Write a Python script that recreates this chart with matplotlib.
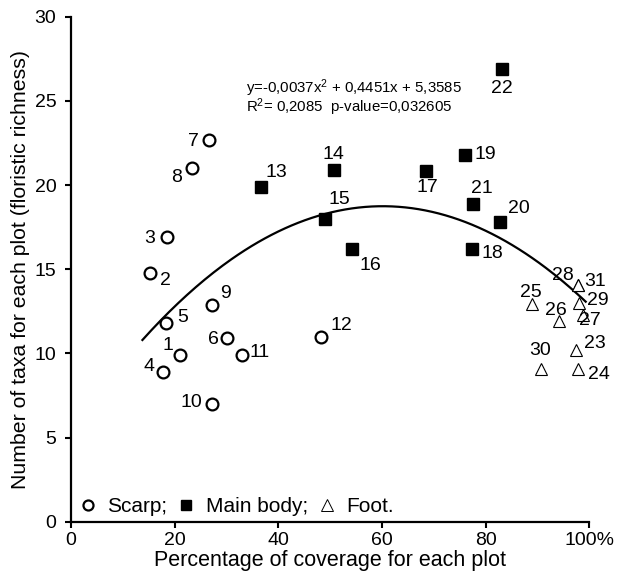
import numpy as np
import matplotlib
matplotlib.use('Agg')
import matplotlib.pyplot as plt

plt.rcParams['font.family'] = ['Liberation Sans', 'DejaVu Sans']
plt.rcParams['mathtext.default'] = 'regular'

# data: (coverage %, number of taxa)
scarp_id = [1, 2, 3, 4, 5, 6, 7, 8, 9, 10, 11, 12]
scarp_x = [21.1, 15.2, 18.6, 17.8, 18.4, 30.2, 26.6, 23.4, 27.2, 27.3, 33.0, 48.2]
scarp_y = [9.9, 14.8, 16.9, 8.9, 11.8, 10.9, 22.7, 21.0, 12.9, 7.0, 9.9, 11.0]

body_id = [13, 14, 15, 16, 17, 18, 19, 20, 21, 22]
body_x = [36.6, 50.7, 49.1, 54.3, 68.5, 77.3, 76.0, 82.7, 77.6, 83.1]
body_y = [19.9, 20.9, 18.0, 16.2, 20.85, 16.2, 21.8, 17.8, 18.9, 26.9]

foot_id = [23, 24, 25, 26, 27, 28, 29, 30, 31]
foot_x = [97.5, 97.9, 89.0, 94.1, 98.8, 97.9, 98.1, 90.6, 97.9]
foot_y = [10.2, 9.1, 12.96, 11.9, 12.3, 14.05, 13.0, 9.1, 14.05]

# quadratic fit printed on the chart
coef = [-0.0037, 0.4451, 5.3585]
fit_range = [13.8, 99.3]

x_ticks = [0, 20, 40, 60, 80, 100]
x_ticklabels = ['0', '20', '40', '60', '80', '100%']
y_ticks = [0, 5, 10, 15, 20, 25, 30]

# label offsets (points) for the number next to each marker
label_off = {
    1: (-9, 7), 2: (11, -6), 3: (-13, -1), 4: (-10, 4), 5: (12, 4), 6: (-10, -1),
    7: (-11, -1), 8: (-11, -7), 9: (10, 8), 10: (-15, 1), 11: (13, 2), 12: (15, 8),
    13: (11, 10), 14: (0, 11), 15: (10, 14), 16: (13, -12), 17: (1, -12), 18: (15, -3),
    19: (15, 0), 20: (14, 10), 21: (6, 11), 22: (0, -14),
    23: (13, 5), 24: (15, -4), 25: (-1, 8), 26: (-2, 8), 27: (5, -4), 28: (-11, 7),
    29: (13, 2), 30: (0, 13), 31: (12, 3),
}

fig = plt.figure(figsize=(6.33, 5.79), dpi=100)
ax = fig.add_axes([0.112, 0.099, 0.819, 0.872])

xx = np.linspace(fit_range[0], fit_range[1], 200)
ax.plot(xx, np.polyval(coef, xx), color='black', lw=1.6, zorder=2)

ax.plot(scarp_x, scarp_y, 'o', ms=8.5, mfc='white', mec='black', mew=1.6,
        ls='none', label='Scarp;', zorder=3)
ax.plot(body_x, body_y, 's', ms=8.5, mfc='black', mec='black',
        ls='none', label='Main body;', zorder=3)
ax.plot(foot_x, foot_y, '^', ms=9, mfc='white', mec='black', mew=0.8,
        ls='none', label='Foot.', zorder=3)

for ids, xs, ys in [(scarp_id, scarp_x, scarp_y), (body_id, body_x, body_y), (foot_id, foot_x, foot_y)]:
    for i, x, y in zip(ids, xs, ys):
        ax.annotate(str(i), (x, y), xytext=label_off[i], textcoords='offset points',
                    ha='center', va='center', fontsize=14, zorder=4)

ax.text(33.8, 25.2, 'y=-0,0037x$^2$ + 0,4451x + 5,3585\nR$^2$= 0,2085  p-value=0,032605',
        fontsize=10.8, va='center', linespacing=0.85)

leg = ax.legend(loc='lower left', ncol=3, frameon=False, fontsize=15,
                handletextpad=0.55, columnspacing=0.5, handlelength=0.8,
                borderaxespad=0.0, bbox_to_anchor=(0.0, -0.005), markerscale=0.85)
leg.legend_handles[2].set_markeredgewidth(0.7)
leg.legend_handles[2].set_markersize(9)

ax.set_xlim(0, 100)
ax.set_ylim(0, 30)
ax.set_xticks(x_ticks)
ax.set_xticklabels(x_ticklabels)
ax.set_yticks(y_ticks)
ax.tick_params(labelsize=14, width=1.5, length=4.5)
ax.tick_params(axis='x', pad=3)
ax.tick_params(axis='y', pad=6)
for s in ['top', 'right']:
    ax.spines[s].set_visible(False)
for s in ['left', 'bottom']:
    ax.spines[s].set_linewidth(1.6)
ax.set_xlabel('Percentage of coverage for each plot', fontsize=15.5, labelpad=1)
ax.set_ylabel('Number of taxa for each plot (floristic richness)', fontsize=15.3, labelpad=3)

fig.savefig('out.png', dpi=100)
